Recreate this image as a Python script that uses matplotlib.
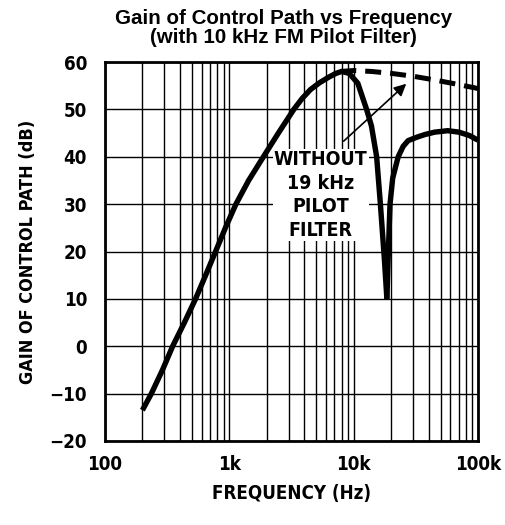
import numpy as np
import matplotlib.pyplot as plt
from matplotlib import font_manager
from matplotlib.ticker import FixedLocator, NullFormatter

# Gain with pilot filter, low side up to the notch (Hz, dB)
freq_a = [200, 236, 290, 350, 435, 535, 645, 775, 930, 1130, 1430, 1880, 2480,
          3300, 3850, 4500, 5300, 6300, 7200, 8000, 9200, 10800, 12700, 13900,
          15300, 16400, 17700, 18500]
gain_a = [-13.5, -10, -5, 0, 5, 10, 15, 20, 25, 30, 35, 40, 45,
          50, 52.3, 54.2, 55.6, 56.8, 57.6, 58, 57.6, 55.5, 50, 46.5,
          40, 30, 18, 10]

# Gain with pilot filter, upper side of the notch
freq_b = [18500, 18900, 19300, 19600, 20600, 22800, 25000, 27400, 32000, 37500,
          45000, 57000, 70000, 85000, 100000]
gain_b = [10, 18, 25, 30, 35.5, 40, 42.2, 43.4, 44.1, 44.7,
          45.2, 45.5, 45.2, 44.5, 43.5]

# Without 19 kHz pilot filter (dashed)
freq_c = [7800, 10000, 14000, 20000, 30000, 45000, 65000, 100000]
gain_c = [58, 58.2, 58, 57.6, 57, 56.2, 55.4, 54.4]

y_ticks = [-20, -10, 0, 10, 20, 30, 40, 50, 60]
y_labels = ["\u221220", "\u221210", "0", "10", "20", "30", "40", "50", "60"]
x_ticks = [100, 1000, 10000, 100000]
x_labels = ["100", "1k", "10k", "100k"]


def pick_font(keys, size):
    # look for a condensed bold face among the installed files
    for key in keys:
        for f in font_manager.fontManager.ttflist:
            if key.lower() in f.fname.lower().replace(" ", ""):
                return font_manager.FontProperties(fname=f.fname, size=size)
    return font_manager.FontProperties(family="Liberation Sans", weight="bold", size=size)


cond = ["LiberationSansNarrow-Bold.", "LiberationSansNarrow-Bold", "DejaVuSansCondensed-Bold."]

fig = plt.figure(figsize=(5.06, 5.25), dpi=100)
ax = fig.add_axes([0.2075, 0.16, 0.7372, 0.7219])

ax.set_xscale("log")
ax.set_xlim(100, 100000)
ax.set_ylim(-20, 60)

minor = [m * 10 ** d for d in range(2, 5) for m in range(2, 10)]
ax.xaxis.set_minor_locator(FixedLocator(minor))
ax.xaxis.set_minor_formatter(NullFormatter())
ax.set_xticks(x_ticks)
ax.set_xticklabels(x_labels, fontproperties=pick_font(cond, 13.5))
ax.set_yticks(y_ticks)
ax.set_yticklabels(y_labels, fontproperties=pick_font(cond, 13.5))
ax.tick_params(axis="x", which="both", length=0, pad=10)
ax.tick_params(axis="y", which="both", length=0, pad=13)

ax.grid(True, which="both", color="black", linewidth=1.0)
for sp in ax.spines.values():
    sp.set_linewidth(2.0)

ax.plot(freq_a, gain_a, color="black", linewidth=3.9, solid_capstyle="butt",
        solid_joinstyle="round", zorder=4)
ax.plot(freq_b, gain_b, color="black", linewidth=3.9, solid_capstyle="butt",
        solid_joinstyle="round", zorder=4)
ax.plot(freq_c, gain_c, color="black", linewidth=3.6, dashes=(3.2, 1.8), zorder=4)

ax.annotate("", xy=(27500, 55.8), xytext=(8000, 42.9),
            arrowprops=dict(arrowstyle="-|>", color="black", lw=1.2,
                            mutation_scale=18), zorder=5)
ax.text(5440, 31.9, "WITHOUT\n19 kHz\nPILOT\nFILTER", ha="center", va="center",
        fontproperties=pick_font(cond, 14), linespacing=1.3, zorder=6,
        bbox=dict(facecolor="white", edgecolor="none", pad=1.0))

ax.set_xlabel("FREQUENCY (Hz)", fontproperties=pick_font(cond, 13.5), labelpad=7)
ax.set_ylabel("GAIN OF CONTROL PATH (dB)", fontproperties=pick_font(cond, 13), labelpad=9)

fig.text(0.56, 0.982, "Gain of Control Path vs Frequency\n(with 10 kHz FM Pilot Filter)",
         ha="center", va="top", fontsize=14.8, fontweight="bold",
         family=["Liberation Sans", "DejaVu Sans"], linespacing=0.95)

fig.savefig("out.png", dpi=100)
